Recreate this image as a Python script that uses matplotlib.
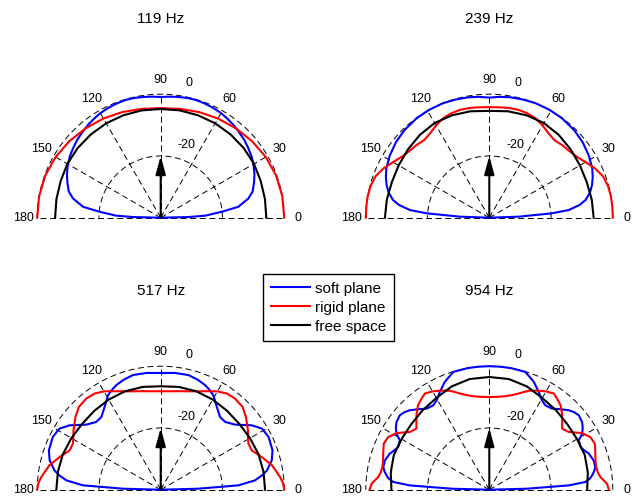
import numpy as np
import matplotlib
matplotlib.use("Agg")
import matplotlib.pyplot as plt

plt.rcParams['font.family'] = ['Liberation Sans', 'DejaVu Sans']
plt.rcParams['lines.scale_dashes'] = False

# readings for half of each pattern (0..90 deg, level in dB), mirrored to 180
freqs = ["119 Hz", "239 Hz", "517 Hz", "954 Hz"]

soft_119_ang = [0, 1.4, 2.6, 5.6, 8, 12.4, 16, 21, 25, 29.6, 34, 38.3, 43, 47.9, 52, 56.4,
                60, 64.3, 69, 73.7, 78, 82, 86, 90]
soft_119_db = [-40, -31, -25.6, -20, -14.6, -10.9, -9.0, -7.6, -6.5, -5.4, -4.5, -3.8, -3.0,
               -2.4, -1.8, -1.3, -0.9, -0.6, -0.35, -0.2, -0.3, -0.5, -0.7, -0.9]
rigid_119_ang = [0, 10, 20, 30, 40, 50, 60, 70, 80, 90]
rigid_119_db = [0, 0, -0.2, -0.7, -1.4, -2.2, -2.9, -3.6, -4.2, -4.5]
free_119_ang = [0, 10, 20, 30, 40, 50, 60, 70, 80, 90]
free_119_db = [-5.8, -5.7, -5.5, -5.1, -4.9, -4.8, -4.7, -4.7, -4.7, -4.8]

soft_239_ang = [0, 2, 4, 5.5, 8, 10.4, 14, 17.6, 21.5, 25.7, 32, 39, 46, 54, 61, 68, 74,
                80, 85, 90]
soft_239_db = [-40, -30.5, -19.7, -14.2, -10.5, -8.3, -6.4, -5.1, -4.0, -3.0, -2.0, -1.1,
               -0.5, -0.1, 0, 0, -0.2, -0.4, -0.7, -1.1]
rigid_239_ang = [0, 5, 10, 15, 20, 25, 30, 35, 40, 45, 50, 55, 60, 65, 70, 75, 80, 85, 90]
rigid_239_db = [0, 0, 0, -0.2, -0.8, -2.2, -4.0, -5.5, -6.3, -6.7, -7.2, -6.6, -5.5, -4.5,
                -4.0, -3.8, -3.9, -4.1, -4.2]
free_239_ang = [0, 10, 20, 30, 40, 50, 60, 70, 80, 90]
free_239_db = [-6.2, -6.3, -6.4, -6.1, -5.6, -5.0, -4.6, -4.7, -5.0, -5.4]

soft_517_ang = [0, 1.5, 3.2, 5.65, 8, 10.3, 14.8, 19.4, 26.1, 31.1, 35.3, 41.2, 46.4,
                50.8, 55.9, 60.8, 64, 67, 71.5, 76.4, 83, 90]
soft_517_db = [-40, -28, -14.8, -9.3, -6.9, -5.0, -2.8, -1.6, -1.1, -1.7, -3.9, -8.0, -9.7,
               -9.6, -7.6, -5.0, -4.0, -3.2, -2.4, -1.8, -1.9, -2.2]
rigid_517_ang = [0, 3, 6, 9, 12.4, 17.9, 23.4, 27.7, 31, 34.3, 40.5, 45.3, 50.8, 55.5, 60.3,
                 62, 65, 70, 75, 80, 85, 90]
rigid_517_db = [0, -0.3, -1.1, -2.1, -3.1, -5.6, -7.9, -7.9, -7.0, -5.8, -3.7, -2.3, -1.9,
                -2.2, -3.3, -3.9, -4.8, -6.1, -7.0, -7.6, -8.0, -8.1]
free_517_ang = [0, 10, 20, 30, 40, 50, 60, 70, 80, 90]
free_517_db = [-6.2, -6.2, -6.3, -6.6, -6.8, -6.6, -6.3, -6.1, -6.2, -6.5]

soft_954_ang = [0, 1.5, 3.1, 4.6, 6.2, 7.9, 10, 12.1, 15.7, 19.9, 22.5, 25.1, 28.9, 31.1,
                33.5, 36.1, 39.8, 42.5, 45, 48.5, 52.3, 56.4, 59.5, 63.2, 67.6, 73, 80, 85, 90]
soft_954_db = [-40, -28, -14.2, -8.8, -7.3, -6.4, -5.5, -4.9, -4.9, -5.7, -6.7, -7.4, -6.9,
               -4.9, -3.7, -2.8, -2.3, -2.8, -3.6, -5.2, -6.8, -7.2, -6.4, -4.5, -2.2, -0.1,
               0, 0, 0]
rigid_954_ang = [0, 2.9, 6.5, 9, 12, 15.5, 18.8, 23.6, 27.5, 31.4, 36, 40, 43, 46.3, 49.9,
                 53.4, 56.2, 60.3, 64, 68.3, 73, 76.5, 80.3, 85, 90]
rigid_954_db = [-1.3, -1.8, -3.8, -4.4, -4.6, -4.3, -3.7, -2.7, -3.1, -4.8, -8.2, -9.2, -7.7,
                -5.9, -4.2, -3.2, -2.5, -3.3, -4.3, -5.5, -7.4, -8.5, -9.3, -9.8, -10.0]
free_954_ang = [0, 10, 20, 30, 40, 50, 60, 70, 80, 90]
free_954_db = [-8.3, -7.6, -7.1, -7.2, -7.0, -6.4, -5.7, -4.4, -3.6, -3.5]

panels = [
    (soft_119_ang, soft_119_db, rigid_119_ang, rigid_119_db, free_119_ang, free_119_db),
    (soft_239_ang, soft_239_db, rigid_239_ang, rigid_239_db, free_239_ang, free_239_db),
    (soft_517_ang, soft_517_db, rigid_517_ang, rigid_517_db, free_517_ang, free_517_db),
    (soft_954_ang, soft_954_db, rigid_954_ang, rigid_954_db, free_954_ang, free_954_db),
]

angle_ticks = [0, 30, 60, 90, 120, 150, 180]
db_min = -40

W, H = 640, 497
centers = [(160.7, 217.7), (489.3, 217.7), (160.7, 489.7), (489.3, 489.7)]
R = 123.5
dash = (0, (4.3, 2.6))


def mirror(ang, db):
    ang = np.asarray(ang, float)
    db = np.clip(np.asarray(db, float), db_min, None)
    full_ang = np.concatenate([ang, 180 - ang[::-1]])
    return np.radians(full_ang), np.concatenate([db, db[::-1]])


fig = plt.figure(figsize=(6.4, 4.97), dpi=100)
ring = np.linspace(0, np.pi, 181)

for i, (title, data) in enumerate(zip(freqs, panels)):
    cx, cy = centers[i]
    # half-disc wedge sits in the middle half of a square polar box
    ax = fig.add_axes([(cx - R) / W, (H - cy - 0.5 * R) / H, 2 * R / W, 2 * R / H],
                      projection='polar')
    ax.set_thetamin(0)
    ax.set_thetamax(180)
    ax.set_rlim(db_min, 0)
    ax.axis('off')

    # dashed grid: rings at -20 and 0 dB, spokes every 30 deg
    for lev in [-20, 0]:
        ax.plot(ring, np.full_like(ring, lev), color='k', lw=0.7, ls=dash, clip_on=False)
    ax.plot([0, 0], [db_min, 0], color='k', lw=0.7, ls=dash, clip_on=False)
    ax.plot([np.pi, np.pi], [db_min, 0], color='k', lw=0.7, ls=dash, clip_on=False)
    for a in angle_ticks[1:-1]:
        ax.plot([np.radians(a)] * 2, [db_min, 0], color='k', lw=0.7, ls=dash, clip_on=False)

    s_a, s_d, r_a, r_d, f_a, f_d = data
    for a, d, c, lab in [(s_a, s_d, 'b', 'soft plane'), (r_a, r_d, 'r', 'rigid plane'),
                         (f_a, f_d, 'k', 'free space')]:
        th, rr = mirror(a, d)
        ax.plot(th, rr, color=c, lw=1.5, label=lab, clip_on=False)

    ax.annotate('', xy=(np.pi / 2, -20), xytext=(np.pi / 2, db_min),
                arrowprops=dict(arrowstyle='-|>,head_length=1.1,head_width=0.3',
                                color='k', lw=1.5, mutation_scale=10,
                                shrinkA=0, shrinkB=0))

    for a in angle_ticks:
        ax.text(np.radians(a), 4.5, str(a), ha='center', va='center', fontsize=9)
    ax.text(np.radians(78), 4.7, '0', ha='center', va='center', fontsize=9)
    ax.text(np.radians(70.3), -15, '-20', ha='center', va='center', fontsize=9)

    fig.text(cx / W, 1 - (cy - 195) / H, title, ha='center', va='baseline', fontsize=11)

    if i == 0:
        handles, labels = ax.get_legend_handles_labels()
        handles, labels = handles[-3:], labels[-3:]

fig.legend(handles, labels, loc='upper left', bbox_to_anchor=(263 / W, 1 - 274 / H),
           bbox_transform=fig.transFigure, borderaxespad=0, fontsize=11,
           frameon=True, fancybox=False, edgecolor='k', framealpha=1,
           handlelength=2.6, handletextpad=0.3, labelspacing=0.33, borderpad=0.5)

fig.savefig("out.png", dpi=100)
